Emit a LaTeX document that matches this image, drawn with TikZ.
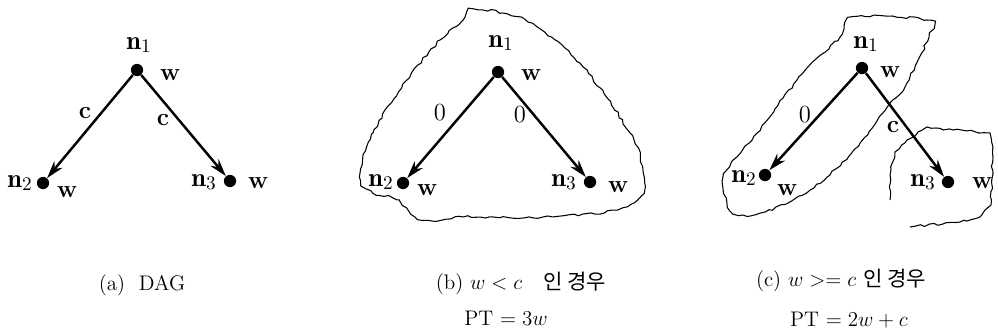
\documentclass[tikz,border=0pt]{standalone}
\usepackage{amsmath}
\usepackage{fontspec}
\newfontfamily\krfont{Noto Sans CJK KR}
\usetikzlibrary{positioning, arrows.meta, decorations.pathmorphing}

\begin{document}
\begin{tikzpicture}[x=0.02cm, y=-0.02cm,
            dot/.style={circle, fill=black, inner sep=0pt, minimum size=7pt},
            lbl/.style={inner sep=0pt, font=\fontsize{15}{17}\selectfont},
            wlbl/.style={inner sep=0pt, font=\fontsize{14}{16}\selectfont\bfseries},
            elbl/.style={inner sep=0pt, font=\fontsize{14}{16}\selectfont},
            arrow/.style={-{Stealth[length=10pt, width=6pt]}, line width=1.4pt},
            blob/.style={line width=0.6pt, decorate, decoration={random steps, segment length=2.5pt, amplitude=0.7pt}},
            caption/.style={inner sep=0pt, font=\fontsize{12}{14}\selectfont}
        ]
            \useasboundingbox (0,0) rectangle (998,335);
            \pgfmathsetseed{7}

            % (a) DAG
            \node[dot] (a1) at (137,70) {};
            \node[dot] (a2) at (43,183) {};
            \node[dot] (a3) at (230,181) {};
            \node[lbl] (a1n) at (139,45) {$\mathbf{n}_1$};
            \node[lbl] (a2n) at (20,183) {$\mathbf{n}_2$};
            \node[lbl] (a3n) at (204,182) {$\mathbf{n}_3$};
            \node[wlbl] (a1w) at (170,75) {w};
            \node[wlbl] (a2w) at (67,192) {w};
            \node[wlbl] (a3w) at (258,183) {w};
            \draw[arrow] (a1) -- (a2);
            \draw[arrow] (a1) -- (a3);
            \node[elbl] (a12c) at (85,113) {\textbf{c}};
            \node[elbl] (a13c) at (163,120) {\textbf{c}};
            \node[caption] (acap) at (142,285) {(a)\ \ DAG};

            % (b) w < c
            \node[dot] (b1) at (498,72) {};
            \node[dot] (b2) at (403,183) {};
            \node[dot] (b3) at (590,182) {};
            \node[lbl] (b1n) at (501,43) {$\mathbf{n}_1$};
            \node[lbl] (b2n) at (381,182) {$\mathbf{n}_2$};
            \node[lbl] (b3n) at (564,182) {$\mathbf{n}_3$};
            \node[wlbl] (b1w) at (531,75) {w};
            \node[wlbl] (b2w) at (427,190) {w};
            \node[wlbl] (b3w) at (618,187) {w};
            \draw[arrow] (b1) -- (b2);
            \draw[arrow] (b1) -- (b3);
            \node[elbl] (b12z) at (440,113) {0};
            \node[elbl] (b13z) at (520,115) {0};
            \draw[blob] plot[smooth cycle, tension=0.6] coordinates {(470,10) (503,13) (537,27) (583,67) (630,133) (643,170) (643,193) (617,210) (543,217) (463,217) (423,220) (397,200) (373,193) (360,177) (373,133) (407,80) (440,40) (463,20)};
            \node[caption] (bcap) at (521,283) {(b)\ $w<c$\quad{\krfont 인 경우}};
            \node[caption] (bpt) at (506,318) {PT $=3w$};

            % (c) w >= c
            \node[dot] (c1) at (862,68) {};
            \node[dot] (c2) at (765,175) {};
            \node[dot] (c3) at (948,182) {};
            \node[lbl] (c1n) at (866,44) {$\mathbf{n}_1$};
            \node[lbl] (c2n) at (744,178) {$\mathbf{n}_2$};
            \node[lbl] (c3n) at (923,182) {$\mathbf{n}_3$};
            \node[wlbl] (c1w) at (890,72) {w};
            \node[wlbl] (c2w) at (787,190) {w};
            \node[wlbl] (c3w) at (982,183) {w};
            \draw[arrow] (c1) -- (c2);
            \draw[arrow] (c1) -- (c3);
            \node[elbl] (c12z) at (805,115) {0};
            \node[elbl] (c13c) at (893,127) {\textbf{c}};
            \draw[blob] plot[smooth cycle, tension=0.6] coordinates {(853,17) (927,20) (930,33) (907,83) (893,100) (860,143) (827,177) (793,200) (760,213) (733,213) (723,187) (727,170) (757,133) (803,73) (840,37)};
            \draw[blob] (890,200) -- (891,170) -- (895,152) -- (907,140) -- (927,127) -- (953,130) -- (990,133) -- (993,157) -- (991,205) -- (980,217) -- (960,222) -- (910,227);
            \node[caption] (ccap) at (841,280) {(c)\ $w>=c$ {\krfont 인 경우}};
            \node[caption] (cpt) at (849,320) {PT $=2w+c$};

        \end{tikzpicture}
\end{document}
